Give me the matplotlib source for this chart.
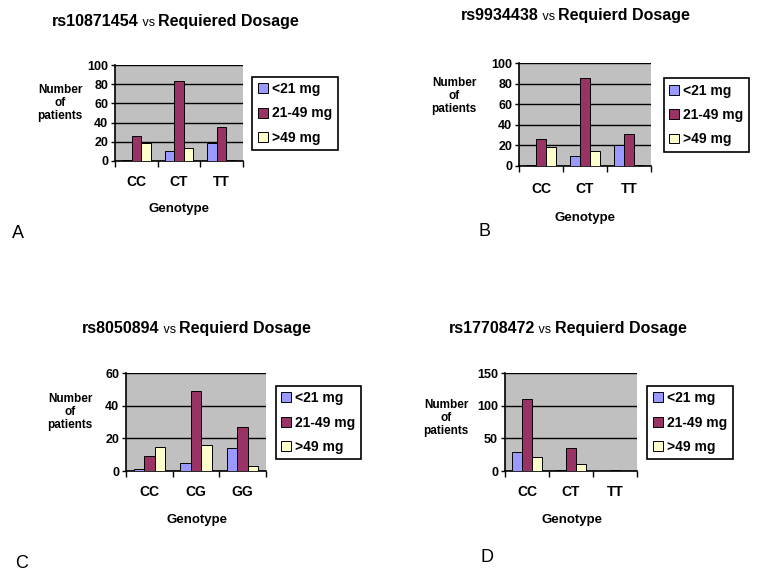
import numpy as np
import matplotlib.pyplot as plt
from matplotlib.transforms import blended_transform_factory

plt.rcParams['font.family'] = ['Liberation Sans', 'DejaVu Sans']

series = ['<21 mg', '21-49 mg', '>49 mg']
colors = ['#9999FF', '#993366', '#FFFFCC']

snp_a = 'rs10871454'
geno_a = ['CC', 'CT', 'TT']
low_a = [1, 10, 19]
mid_a = [26, 83, 35]
high_a = [19, 14, 1]

snp_b = 'rs9934438'
geno_b = ['CC', 'CT', 'TT']
low_b = [1, 10, 20]
mid_b = [26, 85, 31]
high_b = [18, 15, 1]

snp_c = 'rs8050894'
geno_c = ['CC', 'CG', 'GG']
low_c = [1, 5, 14]
mid_c = [9, 49, 27]
high_c = [15, 16, 3]

snp_d = 'rs17708472'
geno_d = ['CC', 'CT', 'TT']
low_d = [29, 1, 0]
mid_d = [110, 35, 1]
high_d = [21, 10, 0]

W, H = 762, 584
fig = plt.figure(figsize=(W / 100, H / 100), dpi=100)


def fx(px):
    return px / W


def fy(py):
    return 1 - py / H


def panel(box, ymax, ystep, geno, vals, title, tpos, ylab_pos, cat_y, gen_pos,
          leg_box, letter, letter_pos):
    x0, y0, x1, y1 = box
    ax = fig.add_axes([fx(x0), fy(y1), fx(x1 - x0), (y1 - y0) / H])
    ax.set_facecolor('#C0C0C0')
    x = np.arange(len(geno))
    w = 1 / 4.5
    for i, (v, c, lab) in enumerate(zip(vals, colors, series)):
        ax.bar(x + (i - 1) * w, v, w, color=c, edgecolor='black',
               linewidth=0.7, label=lab, zorder=3)
    ax.set_xlim(-0.5, len(geno) - 0.5)
    ax.set_ylim(0, ymax)
    ax.set_yticks(np.arange(0, ymax + 1, ystep))
    ax.yaxis.grid(True, color='black', linewidth=1, zorder=1)
    ax.set_axisbelow(True)
    ax.tick_params(axis='y', length=3, width=1, labelsize=9, pad=2)
    for t in ax.get_yticklabels():
        t.set_fontweight('bold')
    ax.set_xticks(x)
    ax.set_xticklabels([])
    ax.set_xticks(np.arange(-0.5, len(geno), 1), minor=True)
    ax.tick_params(axis='x', which='major', length=0)
    ax.tick_params(axis='x', which='minor', length=4, width=1)
    for s in ['top', 'right']:
        ax.spines[s].set_visible(False)
    for s in ['left', 'bottom']:
        ax.spines[s].set_linewidth(1.2)

    # category labels below the axis
    tr = blended_transform_factory(ax.transData, fig.transFigure)
    for xi, g in zip(x, geno):
        ax.text(xi, fy(cat_y), g, transform=tr, fontsize=10,
                fontweight='bold', ha='center', va='center')
    # title pieces: snp, small "vs", dosage text
    t1 = fig.text(fx(tpos[0]), fy(tpos[1]), title[0], fontsize=11.5,
                  fontweight='bold', ha='left', va='baseline')
    a2 = ax.annotate(' ' + title[1] + ' ', xy=(1, 0), xycoords=t1,
                     fontsize=9, va='bottom', ha='left')
    ax.annotate(title[2], xy=(1, 0), xycoords=a2, fontsize=11.5,
                fontweight='bold', va='bottom', ha='left')
    fig.text(fx(ylab_pos[0]), fy(ylab_pos[1]), 'Number\nof\npatients',
             fontsize=8.5, fontweight='bold', ha='center', va='center',
             linespacing=1.15)
    fig.text(fx(gen_pos[0]), fy(gen_pos[1]), 'Genotype', fontsize=9.5,
             fontweight='bold', ha='center', va='center')
    lx0, ly0, lx1, ly1 = leg_box
    leg = ax.legend(loc='center',
                    bbox_to_anchor=(fx((lx0 + lx1) / 2), fy((ly0 + ly1) / 2)),
                    bbox_transform=fig.transFigure, frameon=True,
                    fancybox=False, edgecolor='black', framealpha=1,
                    prop={'weight': 'bold', 'size': 10}, handlelength=0.7,
                    handleheight=0.7, handletextpad=0.3, labelspacing=0.75,
                    borderpad=0.4, borderaxespad=0)
    leg.get_frame().set_linewidth(1.2)
    fig.text(fx(letter_pos[0]), fy(letter_pos[1]), letter, fontsize=13,
             ha='center', va='center')
    return ax


panel((115, 65, 243, 161), 100, 20, geno_a, [low_a, mid_a, high_a],
      (snp_a, 'vs', 'Requiered Dosage'), (52, 26), (60, 103), 182, (179, 209),
      (256, 76, 334, 151), 'A', (18, 234))
panel((519, 63, 651, 166), 100, 20, geno_b, [low_b, mid_b, high_b],
      (snp_b, 'vs', 'Requierd Dosage'), (461, 20), (454, 96), 189, (585, 218),
      (665, 74, 748, 156), 'B', (484, 231))
panel((126, 373, 266, 471), 60, 20, geno_c, [low_c, mid_c, high_c],
      (snp_c, 'vs', 'Requierd Dosage'), (82, 333), (70, 412), 492, (197, 520),
      (278, 384, 359, 461), 'C', (22, 563))
panel((505, 373, 637, 471), 150, 50, geno_d, [low_d, mid_d, high_d],
      (snp_d, 'vs', 'Requierd Dosage'), (449, 333), (446, 418), 492, (572, 520),
      (650, 384, 730, 461), 'D', (487, 557))

fig.savefig('out.png', dpi=100)
